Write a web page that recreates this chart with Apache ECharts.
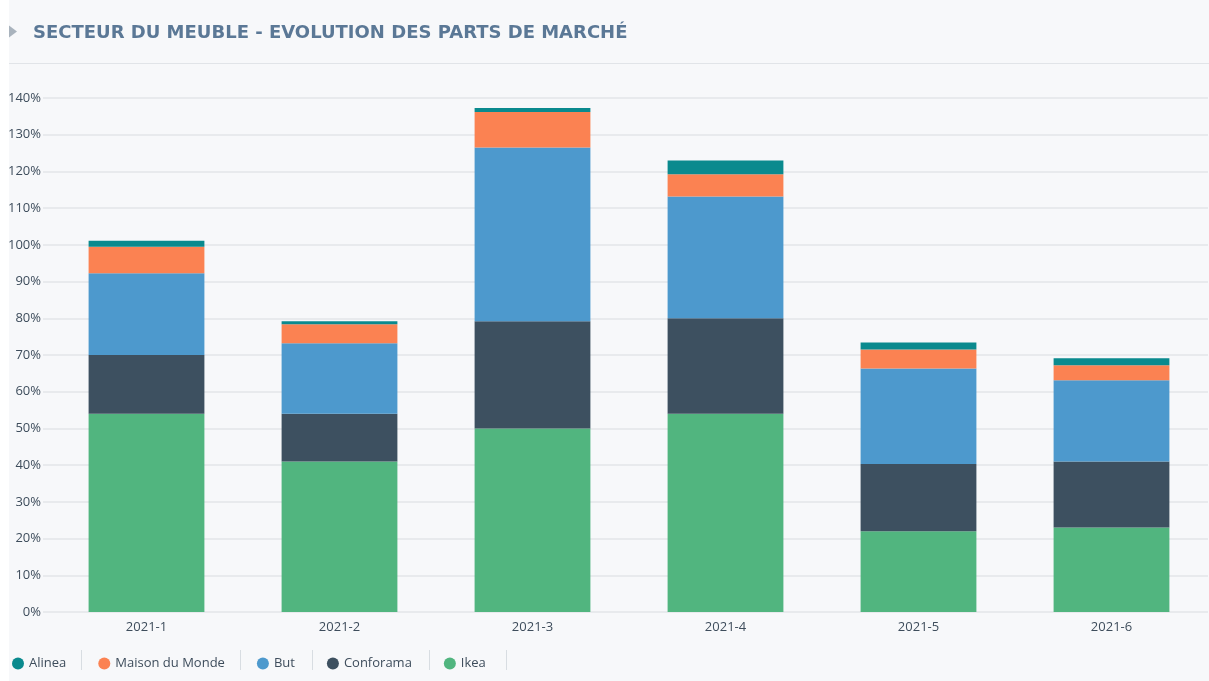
<!DOCTYPE html>
<html>
<head>
<meta charset="utf-8">
<script src="https://cdn.jsdelivr.net/npm/echarts@6/dist/echarts.min.js"></script>
<style>
html,body{margin:0;padding:0;background:#ffffff;}
#c{width:1209px;height:681px;}
</style>
</head>
<body>
<div id="c"></div>
<script>
var categories = ['2021-1','2021-2','2021-3','2021-4','2021-5','2021-6'];
var ikea      = [54, 41, 50, 54, 22, 23];
var conforama = [16, 13, 29.2, 26, 18.3, 18];
var but       = [22.3, 19.2, 47.3, 33.2, 26, 22.1];
var maison    = [7.2, 5.2, 9.7, 6, 5.2, 4.1];
var alinea    = [1.6, 0.8, 1.1, 3.8, 1.9, 1.9];
var yTicks = [0,10,20,30,40,50,60,70,80,90,100,110,120,130,140];

var colors = {Alinea:'#0a8a8e', 'Maison du Monde':'#fb8252', But:'#4d99cd', Conforama:'#3d5060', Ikea:'#51b57f'};
var font = '"Open Sans", Lato, sans-serif';

function bar(name, data){
  return {name:name, type:'bar', stack:'total', data:data, barWidth:'60%',
    itemStyle:{color:colors[name]}, emphasis:{disabled:true}};
}
function sep(x){
  return {type:'line', shape:{x1:x,y1:650,x2:x,y2:670}, style:{stroke:'#d8dde2',lineWidth:1}};
}

var chart = echarts.init(document.getElementById('c'), null, {renderer:'canvas'});
chart.setOption({
  backgroundColor:'#ffffff',
  animation:false,
  textStyle:{fontFamily:font},
  graphic:[
    {type:'rect', shape:{x:9,y:0,width:1200,height:681}, style:{fill:'#f7f8fa'}, z:-10},
    {type:'polygon', shape:{points:[[9,25.5],[17,31.5],[9,37.5]]}, style:{fill:'#a9b3bd'}},
    {type:'line', shape:{x1:9,y1:63.5,x2:1209,y2:63.5}, style:{stroke:'#e1e4e8',lineWidth:1}},
    sep(81.5), sep(240.5), sep(312.5), sep(429.5), sep(506.5)
  ],
  title:{text:'SECTEUR DU MEUBLE - EVOLUTION DES PARTS DE MARCHÉ', left:28, top:19,
    textStyle:{fontFamily:'"DejaVu Sans", sans-serif', fontWeight:'bold', fontSize:18, color:'#5b7896'}},
  legend:{data:['Alinea','Maison du Monde','But','Conforama','Ikea'], left:7, top:652, icon:'circle',
    itemWidth:12, itemHeight:12, itemGap:32,
    textStyle:{fontFamily:font, fontSize:13, color:'#3e4d5c'}},
  grid:{left:50, right:1, top:98, bottom:69, containLabel:false},
  xAxis:{type:'category', data:categories,
    axisLine:{show:false}, axisTick:{show:false},
    axisLabel:{margin:9, fontSize:13, color:'#3e4d5c', fontFamily:font}},
  yAxis:{type:'value', min:0, max:140, interval:10,
    axisLine:{show:false},
    axisTick:{show:true, length:7, lineStyle:{color:'#e8eaed', width:2}},
    splitLine:{lineStyle:{color:'#e8eaed', width:2}},
    axisLabel:{margin:9, fontSize:13, color:'#3e4d5c', fontFamily:font,
      formatter:function(v){return yTicks.indexOf(v)>=0 ? v+'%' : '';}}},
  series:[bar('Ikea',ikea), bar('Conforama',conforama), bar('But',but), bar('Maison du Monde',maison), bar('Alinea',alinea)]
});
</script>
</body>
</html>
